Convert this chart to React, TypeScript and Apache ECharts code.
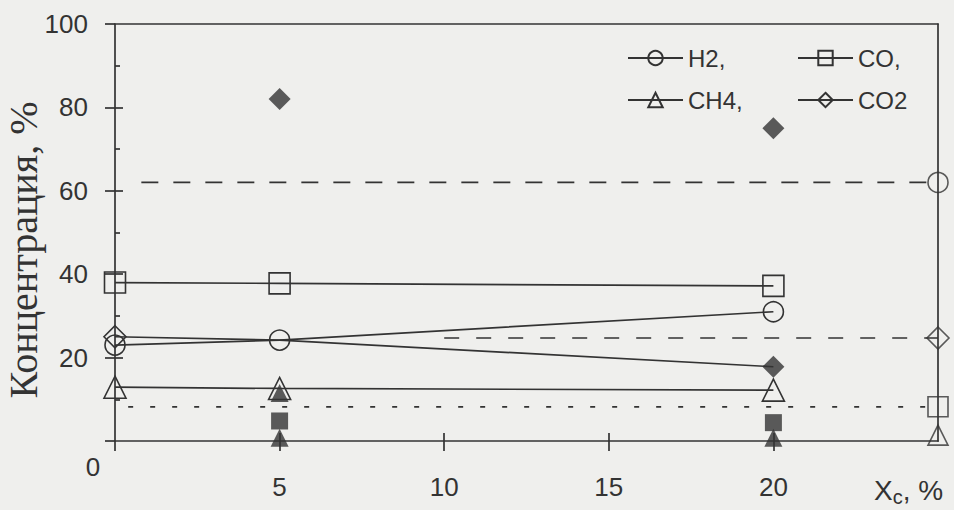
import React, { useEffect, useRef } from 'react';
import * as echarts from 'echarts';

// measured points (x = Xc, %)
const xPoints = [0, 5, 20];
const h2Values = [23, 24.2, 31];
const coValues = [38, 37.8, 37.2];
const ch4Values = [12.9, 12.6, 12.2];
const co2Values = [25, 24.2, 17.8];

// equilibrium values drawn on the right frame (x = 25)
const eqX = 25;
const eqH2 = 62;
const eqCO2 = 24.7;
const eqCO = 8.2;
const eqCH4 = 1.4;
const eqH2LineStart = 0.8;
const eqCO2LineStart = 10;
const eqCOLineStart = 0.4;

// filled markers (second data set)
const filledDiamondPoints = [[5, 82], [20, 75], [20, 17.8]];
const filledTrianglePoints = [[5, 11.5], [5, 0.8], [20, 0.8]];
const filledSquarePoints = [[5, 4.8], [20, 4.4]];

const xTickLabels = [5, 10, 15, 20];
const yTickLabels = [20, 40, 60, 80, 100];

const INK = '#333333';
const BG = '#efefed';
const SANS = "'Liberation Sans Narrow', 'Liberation Sans', Arial, sans-serif";
const SERIF = "'Liberation Serif', 'Times New Roman', serif";

export default function App() {
  const ref = useRef<HTMLDivElement>(null);
  useEffect(() => {
    if (!ref.current) return;
    const chart = echarts.init(ref.current, undefined, { renderer: 'svg' });
    const openItem = { color: 'transparent', borderColor: INK, borderWidth: 1.6 };
    const solidItem = { color: INK, borderColor: INK, borderWidth: 0 };
    const lineS = { color: INK, width: 1.7 };
    const mk = (name: string, vals: number[], symbol: string, size: number, hideIdx: number[] = []) => ({
      name,
      type: 'line',
      xAxisIndex: 0,
      yAxisIndex: 0,
      clip: false,
      symbol,
      symbolSize: size,
      itemStyle: openItem,
      lineStyle: lineS,
      data: xPoints.map((x, i) =>
        hideIdx.indexOf(i) >= 0 ? { value: [x, vals[i]], symbol: 'none' } : [x, vals[i]]
      ),
      z: 3,
    });
    const dashed = (start: number, v: number, type: number[]) => ({
      type: 'line',
      xAxisIndex: 0,
      yAxisIndex: 0,
      symbol: 'none',
      lineStyle: { color: INK, width: 1.7, type },
      data: [[start, v], [eqX, v]],
      z: 2,
    });
    const scatter = (pts: number[][], symbol: string, size: number, style: any) => ({
      type: 'scatter',
      xAxisIndex: 0,
      yAxisIndex: 0,
      clip: false,
      symbol,
      symbolSize: size,
      itemStyle: style,
      data: pts,
      z: 4,
    });
    const legendBase = {
      orient: 'vertical',
      top: 42,
      padding: 0,
      itemWidth: 55,
      itemHeight: 18,
      itemGap: 10,
      selectedMode: false,
      textStyle: { fontSize: 24, fontFamily: SANS, color: INK, lineHeight: 32 },
    };
    const option: any = {
      animation: false,
      backgroundColor: BG,
      grid: { left: 115, right: 16, top: 24, bottom: 69 },
      legend: [
        { ...legendBase, left: 627, data: ['H2,', 'CH4,'] },
        { ...legendBase, left: 797, data: ['CO,', 'CO2'] },
      ],
      xAxis: [
        {
          type: 'value', min: 0, max: 25, interval: 5, position: 'bottom',
          axisLine: { show: true, onZero: false, lineStyle: lineS },
          axisTick: { show: true, inside: false, length: 10, customValues: [0, ...xTickLabels], lineStyle: lineS },
          axisLabel: { customValues: xTickLabels, margin: 33, fontSize: 26, fontFamily: SANS, color: INK },
          splitLine: { show: false },
        },
        {
          type: 'value', min: 0, max: 25, interval: 5, position: 'bottom',
          axisLine: { show: false },
          axisTick: { show: true, inside: true, length: 8, customValues: xTickLabels, lineStyle: lineS },
          axisLabel: { show: false },
          splitLine: { show: false },
        },
        {
          type: 'value', min: 0, max: 25, interval: 5, position: 'top',
          axisLine: { show: true, onZero: false, lineStyle: lineS },
          axisTick: { show: false }, axisLabel: { show: false }, splitLine: { show: false },
        },
      ],
      yAxis: [
        {
          type: 'value', min: 0, max: 100, interval: 20, position: 'left',
          axisLine: { show: true, onZero: false, lineStyle: lineS },
          axisTick: { show: true, inside: false, length: 10, lineStyle: lineS },
          axisLabel: {
            margin: 27, fontSize: 26, fontFamily: SANS, color: INK,
            formatter: (v: number) => (yTickLabels.indexOf(v) >= 0 ? String(v) : ''),
          },
          splitLine: { show: false },
        },
        {
          type: 'value', min: 0, max: 100, interval: 20, position: 'left',
          axisLine: { show: false },
          axisTick: { show: true, inside: true, length: 8, customValues: [20, 40, 60, 80], lineStyle: lineS },
          minorTick: { show: true, splitNumber: 2, length: 5, lineStyle: lineS },
          axisLabel: { show: false }, splitLine: { show: false },
        },
        {
          type: 'value', min: 0, max: 100, interval: 20, position: 'right',
          axisLine: { show: true, onZero: false, lineStyle: lineS },
          axisTick: { show: false }, axisLabel: { show: false }, splitLine: { show: false },
        },
      ],
      graphic: [
        {
          type: 'text', x: 23, y: 250, rotation: Math.PI / 2,
          style: {
            text: 'Концентрация, %', fontSize: 40, fontFamily: SERIF, fill: INK,
            align: 'center', verticalAlign: 'middle',
          },
        },
        {
          type: 'text', x: 93, y: 467,
          style: { text: '0', fontSize: 26, fontFamily: SANS, fill: INK, align: 'center', verticalAlign: 'middle' },
        },
        {
          type: 'text', x: 874, y: 490,
          style: {
            text: '{x|X}{c|c}{x|, %}',
            align: 'left', verticalAlign: 'middle',
            rich: {
              x: { fontSize: 28, fontFamily: SANS, fill: INK, lineHeight: 34 },
              c: { fontSize: 20, fontFamily: SANS, fill: INK, lineHeight: 15, verticalAlign: 'bottom' },
            },
          },
        },
      ],
      series: [
        dashed(eqH2LineStart, eqH2, [17, 15]),
        dashed(eqCO2LineStart, eqCO2, [15, 17]),
        dashed(eqCOLineStart, eqCO, [5, 17]),
        mk('H2,', h2Values, 'circle', 20),
        mk('CO,', coValues, 'rect', 21),
        mk('CH4,', ch4Values, 'triangle', 22),
        mk('CO2', co2Values, 'diamond', 22, [1, 2]),
        scatter([[eqX, eqH2]], 'circle', 20, openItem),
        scatter([[eqX, eqCO2]], 'diamond', 22, openItem),
        scatter([[eqX, eqCO]], 'rect', 20, openItem),
        scatter([[eqX, eqCH4]], 'triangle', 20, openItem),
        scatter(filledDiamondPoints, 'diamond', 22, solidItem),
        scatter(filledTrianglePoints, 'triangle', 18, solidItem),
        scatter(filledSquarePoints, 'rect', 17, solidItem),
      ],
    };
    chart.setOption(option);
    return () => chart.dispose();
  }, []);
  return (
    <div
      ref={ref}
      style={{ position: 'fixed', left: 0, top: 0, width: 954, height: 510 }}
    />
  );
}
